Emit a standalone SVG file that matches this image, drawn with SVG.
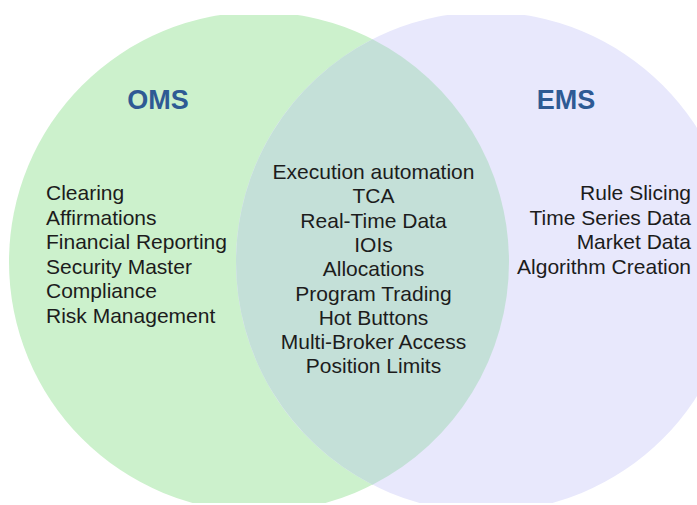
<svg xmlns="http://www.w3.org/2000/svg" width="697" height="505" viewBox="0 0 697 505">
  <style>
    .title { font-family: "Liberation Sans", Arial, sans-serif; font-size: 27px; font-weight: bold; fill: #2E5A94; text-anchor: middle; }
    .item { font-family: "Liberation Sans", Arial, sans-serif; font-size: 21px; fill: #1c1c1c; }
    .left { text-anchor: start; }
    .mid { text-anchor: middle; }
    .right { text-anchor: end; }
  </style>
  <defs>
    <clipPath id="frame">
      <rect x="0" y="15" width="697" height="488"/>
    </clipPath>
  </defs>
  <rect width="697" height="505" fill="#ffffff"/>
  <g clip-path="url(#frame)">
    <g id="oms">
      <circle cx="259" cy="262" r="250" fill="#CCF1CC"/>
    </g>
    <g id="ems">
      <circle cx="486" cy="262" r="250" fill="#E8E8FC"/>
    </g>
    <g id="shared">
      <path d="M372.5 39.25 A250 250 0 0 1 372.5 484.75 A250 250 0 0 1 372.5 39.25 Z" fill="#C4E0D8"/>
    </g>
  </g>
  <g id="oms-text">
    <text class="title" x="158" y="109">OMS</text>
    <text class="item left" x="46" y="200">Clearing</text>
    <text class="item left" x="46" y="224.5">Affirmations</text>
    <text class="item left" x="46" y="249">Financial Reporting</text>
    <text class="item left" x="46" y="273.5">Security Master</text>
    <text class="item left" x="46" y="298">Compliance</text>
    <text class="item left" x="46" y="322.5">Risk Management</text>
  </g>
  <g id="ems-text">
    <text class="title" x="566" y="109">EMS</text>
    <text class="item right" x="691" y="200">Rule Slicing</text>
    <text class="item right" x="691" y="224.5">Time Series Data</text>
    <text class="item right" x="691" y="249">Market Data</text>
    <text class="item right" x="691" y="273.5">Algorithm Creation</text>
  </g>
  <g id="shared-text">
    <text class="item mid" x="373.5" y="179">Execution automation</text>
    <text class="item mid" x="373.5" y="203.3">TCA</text>
    <text class="item mid" x="373.5" y="227.6">Real-Time Data</text>
    <text class="item mid" x="373.5" y="251.9">IOIs</text>
    <text class="item mid" x="373.5" y="276.2">Allocations</text>
    <text class="item mid" x="373.5" y="300.5">Program Trading</text>
    <text class="item mid" x="373.5" y="324.8">Hot Buttons</text>
    <text class="item mid" x="373.5" y="349.1">Multi-Broker Access</text>
    <text class="item mid" x="373.5" y="373.4">Position Limits</text>
  </g>
</svg>
